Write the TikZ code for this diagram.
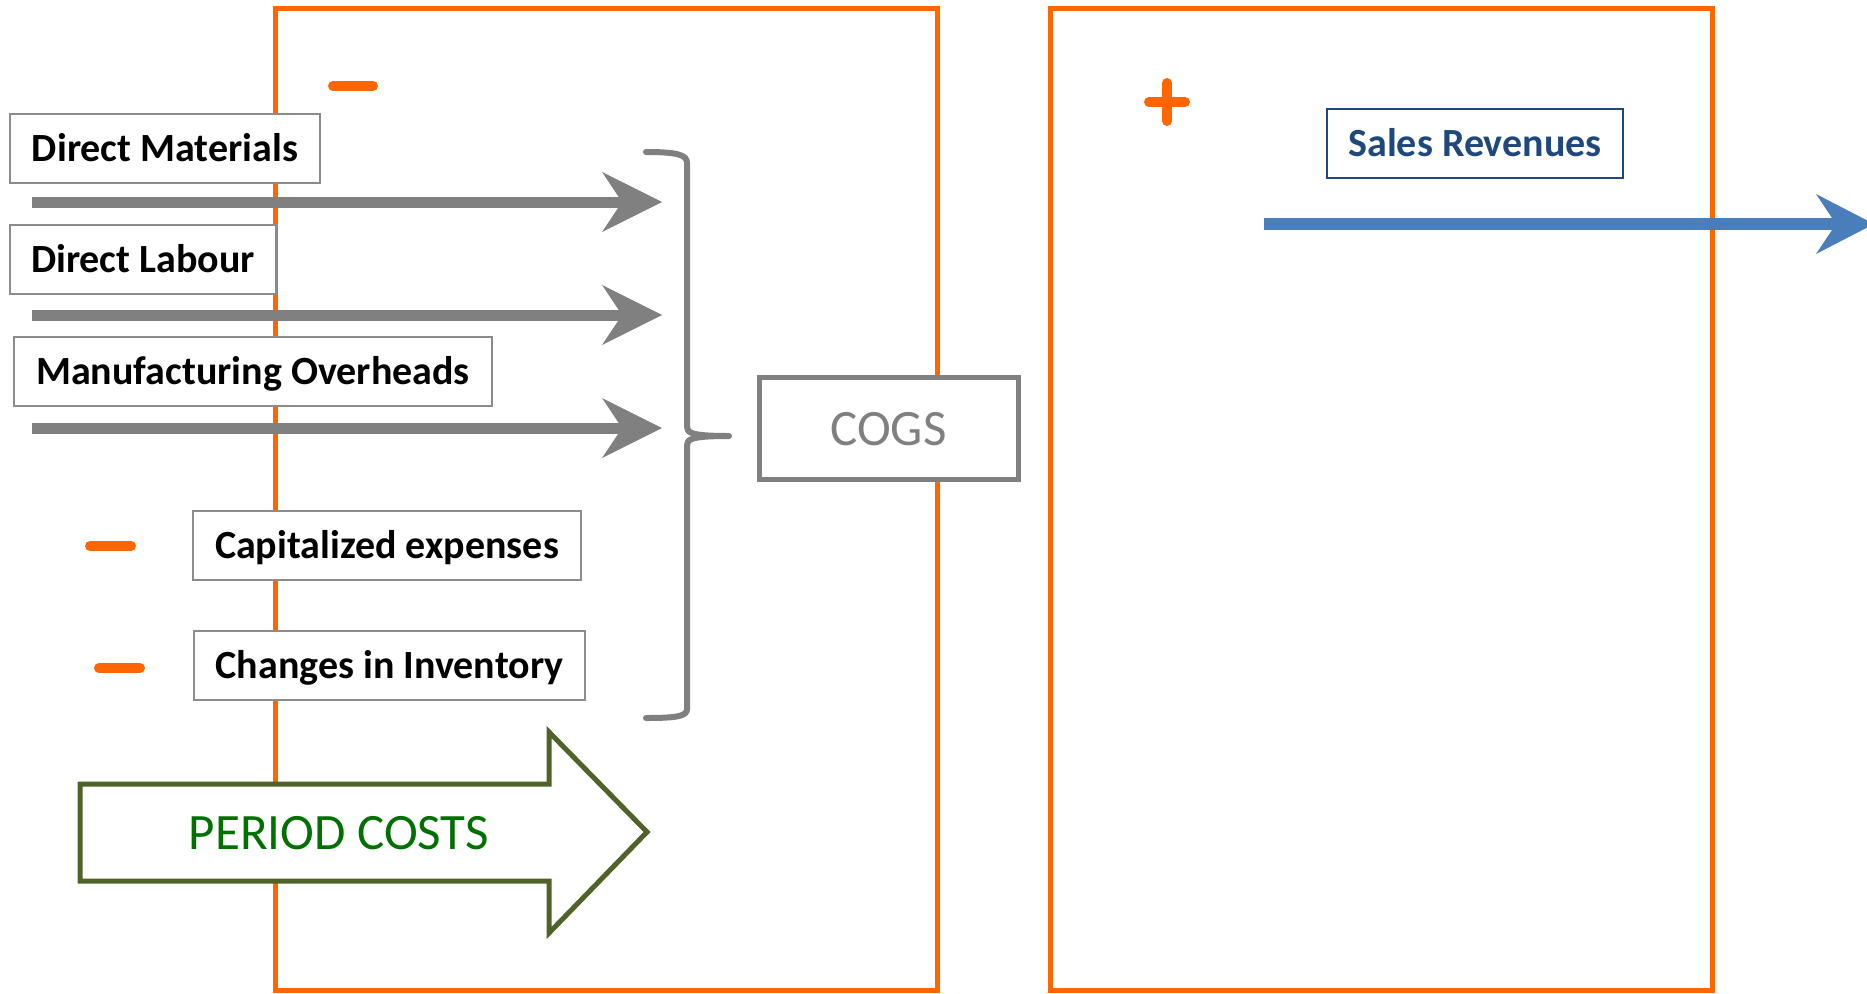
\documentclass[tikz,border=0pt]{standalone}
\usepackage{fontspec}
\setmainfont{Carlito}
\usetikzlibrary{arrows.meta}
\definecolor{accent}{HTML}{FF6600}
\definecolor{flowgray}{HTML}{808080}
\definecolor{boxgray}{HTML}{8C8C8C}
\definecolor{navy}{HTML}{1F497D}
\definecolor{flowblue}{HTML}{4A7EBB}
\definecolor{olive}{HTML}{4F6228}
\definecolor{leafgreen}{HTML}{007000}
\tikzset{
  frame/.style={draw=accent, line width=5pt},
  sign/.style={draw=accent, line width=10pt, line cap=round},
  flow/.style={draw=flowgray, line width=11pt,
    -{Stealth[length=60pt, width=60pt, inset=20pt, line width=0pt]}},
  revflow/.style={draw=flowblue, line width=12pt,
    -{Stealth[length=58pt, width=60pt, inset=20pt, line width=0pt]}},
  item/.style={draw=boxgray, line width=2pt, fill=white, inner sep=0pt,
    minimum height=69pt, text height=30pt, text depth=4pt,
    font=\fontsize{40}{48}\selectfont\bfseries},
  brace/.style={draw=flowgray, line width=6pt, line cap=round, line join=round},
}
\begin{document}
\begin{tikzpicture}[x=1pt, y=-1pt]
\useasboundingbox (0,0) rectangle (1867,993);

% the two account frames
\draw[frame] (275,8) rectangle (937,990);
\draw[frame] (1050,8) rectangle (1712,990);

% signs
\draw[sign] (333,86) -- (373,86);
\draw[sign] (90,546) -- (131,546);
\draw[sign] (99,668) -- (140,668);
\draw[sign] (1149,102) -- (1185,102);
\draw[sign] (1167,83) -- (1167,121);

% cost flows into the brace
\coordinate (m0) at (32,202);  \coordinate (m1) at (662,202);
\coordinate (l0) at (32,315);  \coordinate (l1) at (662,315);
\coordinate (o0) at (32,428);  \coordinate (o1) at (662,428);
\draw[flow] (m0) -- (m1);
\draw[flow] (l0) -- (l1);
\draw[flow] (o0) -- (o1);

% revenue flow
\coordinate (r0) at (1264,224); \coordinate (r1) at (1874,224);
\draw[revflow] (r0) -- (r1);

% brace grouping the cost items
\draw[brace] (646,152) .. controls (678,152) and (687,155) .. (687,163)
  -- (687,427) .. controls (687,433) and (692,436) .. (729,436)
  .. controls (692,436) and (687,439) .. (687,445)
  -- (687,709) .. controls (687,716) and (678,718) .. (646,718);

% cost items
\node[item, minimum width=310pt] (dm) at (165,148.5) {Direct Materials};
\node[item, minimum width=266pt] (dl) at (143,259.5) {Direct Labour};
\node[item, minimum width=478pt] (mo) at (253,371.5) {Manufacturing Overheads};
\node[item, minimum width=388pt] (ce) at (387,545) {Capitalized expenses};
\node[item, minimum width=391pt] (ci) at (389.5,665.5) {Changes in Inventory};

% cost of goods sold
\node[draw=flowgray, line width=5pt, fill=white, inner sep=0pt,
      minimum width=259pt, minimum height=102pt, text=flowgray,
      text height=40pt, text depth=6pt,
      font=\fontsize{51}{61}\selectfont] (cogs) at (888.5,428) {COGS};

% revenues
\node[draw=navy, line width=2pt, fill=white, inner sep=0pt,
      minimum width=296pt, minimum height=69pt, text=navy,
      text height=30pt, text depth=4pt,
      font=\fontsize{40}{48}\selectfont\bfseries] (sales) at (1475,143.5) {Sales Revenues};

% period costs block arrow
\draw[draw=olive, fill=white, line width=5pt, line join=miter]
  (80,784) -- (549,784) -- (549,732) -- (647,832) -- (549,933)
  -- (549,881) -- (80,881) -- cycle;
\node[text=leafgreen, font=\fontsize{51}{61}\selectfont, inner sep=0pt,
      text height=40pt, text depth=6pt] (period) at (339,832) {PERIOD COSTS};
\end{tikzpicture}
\end{document}
